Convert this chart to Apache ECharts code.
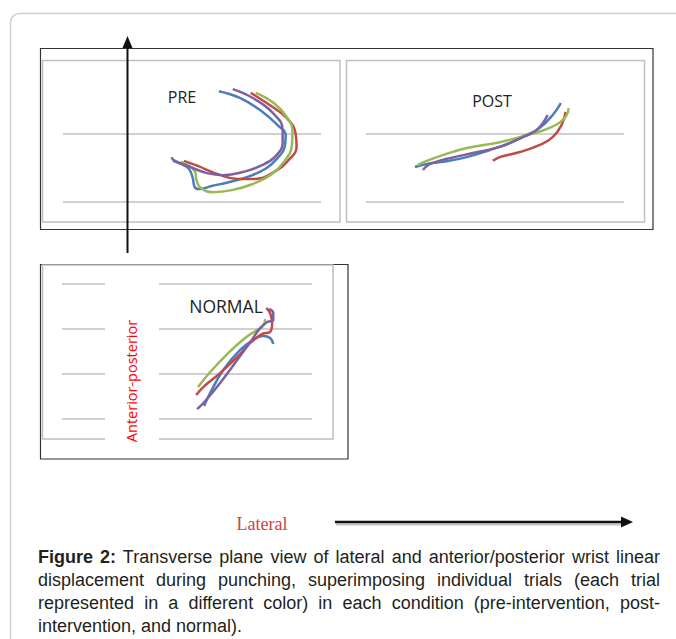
<!DOCTYPE html>
<html>
<head>
<meta charset="utf-8">
<script src="https://cdn.jsdelivr.net/npm/echarts@6/dist/echarts.min.js"></script>
<style>
  html, body { margin: 0; padding: 0; background: #fff; }
  #chart { position: absolute; left: 0; top: 0; width: 676px; height: 639px; }
  #cap { position: absolute; left: 38px; top: 546px; width: 622px; font-family: "Liberation Sans", Arial, sans-serif; font-size: 18px; line-height: 23px; color: #231f20; }
  #cap .j { text-align: justify; text-align-last: justify; }
</style>
</head>
<body>
<div id="chart"></div>
<div id="cap">
  <div class="j"><b>Figure 2:</b> Transverse plane view of lateral and anterior/posterior wrist linear</div>
  <div class="j">displacement during punching, superimposing individual trials (each trial</div>
  <div class="j">represented in a different color) in each condition (pre-intervention, post-</div>
  <div>intervention, and normal).</div>
</div>
<script>
// Panel titles and axis captions
const panelTitles = ['PRE', 'POST', 'NORMAL'];
const axisTitleAP = 'Anterior-posterior';
const axisTitleLat = 'Lateral';
const trialColors = ['#4A7EBB', '#BE4B48', '#98B954', '#7D60A0'];

// PRE condition: [lateral, anterior-posterior] per trial
const preBlue = [[45.9,32.6],[52.1,30.6],[58.8,26.5],[63.2,22.6],[65.6,19.7],[65.3,16.2],[63.2,12.9],[60.0,10.0],[55.0,7.6],[49.1,5.9],[43.8,4.7],[40.0,3.8],[38.8,4.4],[38.2,7.1],[37.1,9.7],[34.7,11.2],[32.4,12.1]];
const preRed = [[55.3,32.1],[60.9,28.5],[65.9,24.7],[68.5,20.3],[68.8,16.2],[66.5,12.4],[62.1,8.8],[56.5,6.8],[51.5,6.8],[45.6,8.2],[39.7,10.6],[35.6,12.1]];
const preGreen = [[56.8,32.1],[62.1,29.1],[65.9,25.0],[67.6,20.9],[67.4,16.5],[65.3,12.1],[61.5,8.2],[55.9,5.3],[49.7,3.5],[44.1,2.9],[40.6,4.1],[39.4,6.2],[38.8,9.1],[36.8,10.9],[34.7,11.8]];
const prePurple = [[50.0,33.2],[55.9,30.6],[61.8,26.2],[64.7,21.2],[64.7,17.4],[62.9,13.8],[58.8,10.9],[52.9,8.8],[47.1,7.9],[42.4,8.5],[38.2,10.0],[34.4,11.5],[32.4,12.4],[32.1,13.2]];

// POST condition
const postBlue = [[14.4,10.3],[17.9,11.2],[22.6,11.8],[29.7,13.2],[36.5,15.3],[42.4,17.4],[47.4,19.7],[51.2,21.8],[55.0,25.6],[57.4,29.1]];
const postRed = [[37.4,12.1],[39.4,13.2],[45.3,14.7],[51.2,16.8],[55.0,19.1],[57.6,22.6],[58.8,26.5]];
const postGreen = [[15.3,10.9],[17.9,12.1],[22.6,13.8],[29.7,15.9],[39.4,17.6],[47.4,19.7],[54.1,21.8],[58.5,24.7],[59.7,27.6]];
const postPurple = [[16.8,9.4],[17.9,10.6],[19.7,11.5],[24.7,12.9],[31.5,14.4],[39.4,16.2],[46.2,19.1],[50.3,21.2],[53.5,25.6]];

// NORMAL condition
const normBlue = [[63.1,5.8],[65.8,11.6],[71.6,21.8],[79.1,30.7],[84.9,35.1],[89.3,36.9],[92.4,36.0],[93.8,33.3]];
const normRed = [[59.6,10.7],[62.7,14.2],[70.2,20.4],[77.8,27.6],[83.6,33.8],[88.9,37.8],[92.4,38.7],[93.3,42.7],[92.4,47.1],[90.7,49.3]];
const normGreen = [[60.4,14.2],[65.8,20.9],[73.8,29.3],[81.3,36.0],[86.7,39.6],[89.3,41.3],[90.2,44.4]];
const normPurple = [[60.0,4.4],[63.6,8.0],[70.2,16.0],[77.8,26.2],[83.6,34.2],[88.0,40.4],[91.1,43.1],[93.8,44.0],[93.8,47.1],[92.0,48.9]];

const panels = [
  { trials: [preBlue, preRed, preGreen, prePurple], xMax: 76, yMax: 40, showMax: false },
  { trials: [postBlue, postRed, postGreen, postPurple], xMax: 76, yMax: 40, showMax: false },
  { trials: [normBlue, normRed, normGreen, normPurple], xMax: 111, yMax: 60, showMax: true }
];

const grids = [
  { left: 63, top: 66, width: 258, height: 136 },
  { left: 366, top: 66, width: 258, height: 136 },
  { left: 62, top: 284, width: 250, height: 135 }
];

const gridLineStyle = { color: '#c0c0c0', width: 1.5 };

const xAxis = panels.map((p, i) => ({ gridIndex: i, type: 'value', min: 0, max: p.xMax, show: false }));
const yAxis = panels.map((p, i) => ({
  gridIndex: i, type: 'value', min: 0, max: p.yMax, interval: 20,
  axisLine: { show: false }, axisTick: { show: false }, axisLabel: { show: false },
  splitLine: { show: true, showMinLine: true, showMaxLine: p.showMax, lineStyle: gridLineStyle }
}));

const series = [];
panels.forEach((p, i) => {
  p.trials.forEach((d, k) => {
    series.push({
      type: 'line', xAxisIndex: i, yAxisIndex: i, data: d,
      smooth: 0.45, showSymbol: false, symbol: 'none',
      lineStyle: { color: trialColors[k], width: 2.5 },
      itemStyle: { color: trialColors[k] },
      z: 3
    });
  });
});

const grayBox = { fill: 'none', stroke: '#bfbfbf', lineWidth: 1.5 };
const blackBox = { fill: 'none', stroke: '#333', lineWidth: 1.2 };
const titleFont = '"Open Sans", sans-serif';

const graphic = [
  { type: 'rect', z: 0, shape: { x: 10.5, y: 13.5, width: 720, height: 720, r: 9 }, style: { fill: 'none', stroke: '#cfcfcf', lineWidth: 1.5 } },
  { type: 'rect', z: 0, shape: { x: 40.5, y: 48.5, width: 612.5, height: 181 }, style: blackBox },
  { type: 'rect', z: 0, shape: { x: 42.5, y: 60.5, width: 297.5, height: 161.5 }, style: grayBox },
  { type: 'rect', z: 0, shape: { x: 346.5, y: 60.5, width: 298, height: 161.5 }, style: grayBox },
  { type: 'rect', z: 0, shape: { x: 40.5, y: 264.5, width: 307.5, height: 194.5 }, style: blackBox },
  { type: 'rect', z: 0, shape: { x: 42.5, y: 265, width: 290.5, height: 174 }, style: grayBox },
  { type: 'rect', z: 20, shape: { x: 105, y: 270, width: 54, height: 172 }, style: { fill: '#fff' } },
  { type: 'text', z: 21, x: 131, y: 381, rotation: Math.PI / 2,
    style: { text: axisTitleAP, fill: '#ff0000', font: '14.5px ' + titleFont, align: 'center', verticalAlign: 'middle' } },
  { type: 'text', z: 21, x: 182, y: 97, style: { text: panelTitles[0], fill: '#222', font: '16px ' + titleFont, align: 'center', verticalAlign: 'middle' } },
  { type: 'text', z: 21, x: 492, y: 101, style: { text: panelTitles[1], fill: '#222', font: '16px ' + titleFont, align: 'center', verticalAlign: 'middle' } },
  { type: 'text', z: 1, x: 226, y: 306, style: { text: panelTitles[2], fill: '#222', font: '17.5px ' + titleFont, align: 'center', verticalAlign: 'middle' } },
  { type: 'text', z: 21, x: 262, y: 524, style: { text: axisTitleLat, fill: '#cc4444', font: '18px "Liberation Serif", serif', align: 'center', verticalAlign: 'middle' } },
  // vertical arrow
  { type: 'line', z: 30, shape: { x1: 127.5, y1: 46, x2: 127.5, y2: 253 }, style: { stroke: '#111', lineWidth: 2 } },
  { type: 'polygon', z: 30, shape: { points: [[127.5, 36], [122.5, 48], [132.5, 48]] }, style: { fill: '#111' } },
  // horizontal arrow
  { type: 'line', z: 29, shape: { x1: 336, y1: 524.5, x2: 622, y2: 524.5 }, style: { stroke: '#c4c4c4', lineWidth: 2 } },
  { type: 'line', z: 30, shape: { x1: 335, y1: 522, x2: 623, y2: 522 }, style: { stroke: '#111', lineWidth: 2.5 } },
  { type: 'polygon', z: 30, shape: { points: [[633, 522], [621, 516.5], [621, 527.5]] }, style: { fill: '#111' } }
];

const chart = echarts.init(document.getElementById('chart'), null, { renderer: 'svg', width: 676, height: 639 });
chart.setOption({
  animation: false,
  backgroundColor: '#fff',
  grid: grids,
  xAxis: xAxis,
  yAxis: yAxis,
  series: series,
  graphic: { elements: graphic }
});
</script>
</body>
</html>
